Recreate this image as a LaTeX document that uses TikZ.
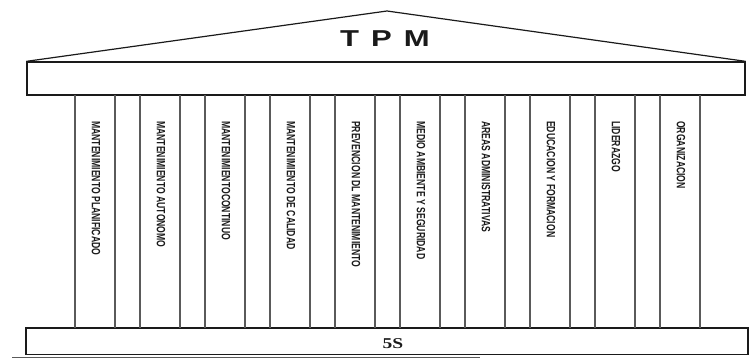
\documentclass[tikz,border=0pt]{standalone}
\usepackage{fontspec}
\setmainfont{Liberation Serif}
\newfontfamily\pillarfont[FakeStretch=0.72]{Liberation Sans}
\newfontfamily\rooffont[FakeStretch=1.35]{Liberation Sans}
\newfontfamily\basefont[FakeStretch=1.3]{Liberation Serif}
\usetikzlibrary{positioning}
\definecolor{inkDark}{HTML}{1A1A1A}
\definecolor{pillarGray}{HTML}{5A5A5A}

\tikzset{
  slab/.style={draw=inkDark, line width=1.3pt, fill=white, inner sep=0pt},
  pillar/.style={draw=pillarGray, line width=1.8pt},
  pillarlabel/.style={rotate=-90, anchor=west, inner sep=0pt, text=inkDark,
    font=\pillarfont\bfseries\fontsize{12}{12}\selectfont},
}

\begin{document}
\begin{tikzpicture}[x=1pt, y=-1pt]
  \useasboundingbox (0,0) rectangle (749,358);
  % roof and beam
  \node[slab, minimum width=718pt, minimum height=33pt] (beam) at (386,78.5) {};
  \coordinate (apex) at (387,11);
  \draw[inkDark, line width=1.2pt, line join=round] (beam.north west) -- (apex) -- (beam.north east);
  \node[text=inkDark, font=\rooffont\bfseries\fontsize{23}{23}\selectfont] (title) at (385,38.5) {T\hspace{12pt}P\hspace{12pt}M};
  % base
  \node[slab, minimum width=722pt, minimum height=26.5pt] (base) at (387,341.25) {};
  \node[text=inkDark, font=\basefont\bfseries\fontsize{15}{15}\selectfont] (fives) at (393,343.5) {5S};
  \draw[pillarGray, line width=0.8pt] (12,357.5) -- (480,357.5);
  % pillars
  \foreach \lab [count=\i from 0] in {MANTENIMIENTO PLANIFICADO, MANTENIMIENTO AUTONOMO,
      MANTENIMIENTOCONTINUO, MANTENIMIENTO DE CALIDAD, PREVENCION DL MANTENIMIENTO,
      MEDIO AMBIENTE Y SEGURIDAD, AREAS ADMINISTRATIVAS, EDUCACION Y FORMACION,
      LIDERAZGO, ORGANIZACION} {
    \pgfmathsetmacro{\cx}{95+65*\i}
    \draw[pillar] ({\cx-20},95.5) -- ({\cx-20},327.5);
    \draw[pillar] ({\cx+20},95.5) -- ({\cx+20},327.5);
    \node[pillarlabel] (lab\i) at ({\cx+1},121) {\lab};
  }
\end{tikzpicture}
\end{document}
